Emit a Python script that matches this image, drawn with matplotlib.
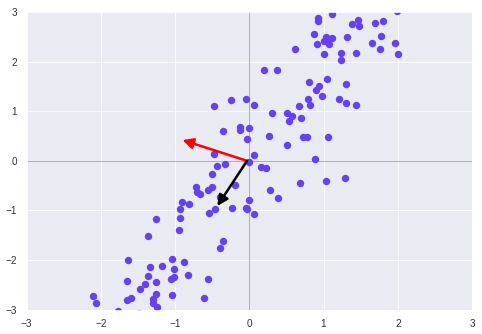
import matplotlib
matplotlib.use("Agg")
from matplotlib import pyplot as plt
import seaborn as sns

# points (data units)
xs = [1.12, 0.93, 0.93, 1.47, 1.38, 1.48, 1.69, 1.80, 1.99, 0.87,
      1.32, 1.78, 1.04, 1.12, 1.01, 1.07, 1.05, 0.91, 1.65, 1.96,
      0.61, 1.00, 1.24, 1.44, 1.76, 2.00, 1.24, 0.20, 0.38, 0.81,
      1.05, 1.30, 0.94, 0.90, 0.98, 0.79, 1.21, 1.30, 1.44, 0.67,
      0.82, -0.47, -0.24, -0.04, 0.07, 0.31, 0.51, 0.57, 0.54, 0.70,
      -0.35, -0.12, -0.12, 0.00, -0.03, 0.26, 0.73, 0.78, 1.06, 0.51,
      -0.47, 0.07, 0.00, -0.32, -0.43, 0.16, 0.22, 0.89, -0.50, 0.69,
      1.04, 1.29, -0.19, -0.72, -0.71, -0.66, -0.50, -0.56, 0.28, 0.39,
      -0.40, -0.01, -0.90, -0.81, -0.93, -0.23, -0.05, -0.03, -0.46, -0.54,
      0.07, -0.93, -1.25, -0.95, -0.36, -0.39, -1.36, -1.04, -0.88, -1.63,
      -1.33, -1.18, -1.02, -0.82, -1.36, -1.02, -1.05, -0.55, -1.64, -1.25,
      -1.40, -1.47, -1.04, -0.61, -2.11, -2.07, -1.64, -1.59, -1.25, -1.30,
      -1.30, -1.24, -1.77, -1.48]
ys = [2.96, 2.88, 2.81, 2.84, 2.76, 2.71, 2.78, 2.82, 3.02, 2.55,
      2.49, 2.52, 2.49, 2.47, 2.42, 2.36, 2.43, 2.35, 2.37, 2.37,
      2.25, 2.15, 2.17, 2.17, 2.25, 2.15, 2.04, 1.83, 1.83, 1.59,
      1.64, 1.55, 1.51, 1.43, 1.31, 1.25, 1.25, 1.17, 1.13, 1.11,
      1.13, 1.11, 1.23, 1.25, 1.13, 0.96, 0.96, 0.90, 0.80, 0.87,
      0.60, 0.68, 0.62, 0.66, 0.44, 0.50, 0.48, 0.48, 0.48, 0.32,
      0.14, 0.12, -0.02, -0.06, -0.11, -0.12, -0.14, 0.04, -0.26, -0.45,
      -0.40, -0.34, -0.49, -0.53, -0.63, -0.67, -0.53, -0.59, -0.59, -0.75,
      -0.73, -0.79, -0.83, -0.87, -0.97, -0.95, -0.95, -0.98, -0.97, -1.05,
      -1.07, -1.16, -1.18, -1.39, -1.61, -1.75, -1.51, -1.97, -2.03, -1.99,
      -2.14, -2.12, -2.18, -2.30, -2.32, -2.34, -2.38, -2.38, -2.42, -2.44,
      -2.48, -2.58, -2.70, -2.76, -2.72, -2.86, -2.80, -2.76, -2.68, -2.78,
      -2.86, -2.94, -3.02, -3.06]

# principal directions (start, end) and colours
arrow_start = [(-0.03, 0.0), (-0.03, 0.0)]
arrow_end = [(-0.90, 0.42), (-0.43, -0.91)]
arrow_colors = ["red", "black"]


def main():
    sns.set_style("darkgrid")
    plt.rcParams["font.family"] = ["Liberation Sans", "DejaVu Sans"]

    fig = plt.figure(figsize=(482 / 72, 334 / 72), dpi=72)
    ax = fig.add_axes([26.5 / 482, (334 - 309.7) / 334, 445.5 / 482, 297.7 / 334])

    ax.axhline(0, color="#b0b0b0", lw=1, zorder=1)
    ax.axvline(0, color="#b0b0b0", lw=1, zorder=1)

    ax.scatter(xs, ys, s=55, color="#6441f2", linewidths=0, zorder=2)

    for st, en, c in zip(arrow_start, arrow_end, arrow_colors):
        ax.annotate("", xy=en, xytext=st,
                    arrowprops=dict(arrowstyle="-|>", color=c, lw=2.5,
                                    shrinkA=0, shrinkB=0, mutation_scale=22),
                    zorder=3)

    ax.set_xlim(-3, 3)
    ax.set_ylim(-3, 3)
    ax.set_xticks([-3, -2, -1, 0, 1, 2, 3])
    ax.set_yticks([-3, -2, -1, 0, 1, 2, 3])
    ax.tick_params(labelsize=10, pad=6, colors="#333333")

    fig.savefig("out.png", dpi=72)


main()
